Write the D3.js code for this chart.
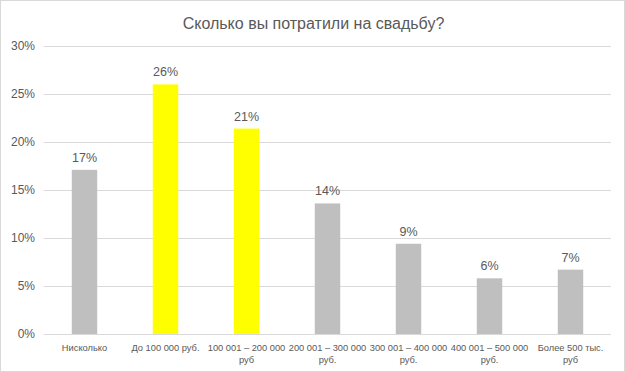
<!DOCTYPE html>
<html>
<head>
<meta charset="utf-8">
<script src="https://cdn.jsdelivr.net/npm/d3@7"></script>
<style>
  body { margin: 0; background: #fff; }
  text { font-family: "Liberation Sans", Arial, sans-serif; fill: #595959; }
</style>
</head>
<body>
<script>
// данные с диаграммы
let categories = [
    "Нисколько",
    "До 100 000 руб.",
    "100 001 – 200 000 руб",
    "200 001 – 300 000 руб.",
    "300 001 – 400 000 руб.",
    "400 001 – 500 000 руб.",
    "Более 500 тыс. руб"
];
// подписи по строкам (как переносит Excel)
let categoryLines = [
    ["Нисколько"],
    ["До 100 000 руб."],
    ["100 001 – 200 000", "руб"],
    ["200 001 – 300 000", "руб."],
    ["300 001 – 400 000", "руб."],
    ["400 001 – 500 000", "руб."],
    ["Более 500 тыс.", "руб"]
];
let values = [0.171, 0.260, 0.214, 0.136, 0.094, 0.058, 0.067];
let highlighted = [false, true, true, false, false, false, false];
let yTicks = [0, 0.05, 0.10, 0.15, 0.20, 0.25, 0.30];
let title = "Сколько вы потратили на свадьбу?";

let W = 625, H = 372;
let margin = {top: 46, right: 14, bottom: 38, left: 44};
let width = W - margin.left - margin.right,
    height = H - margin.top - margin.bottom;

let svg = d3.select("body").append("svg")
    .attr("width", W)
    .attr("height", H);

// рамка области диаграммы
svg.append("rect")
    .attr("x", 0.5).attr("y", 0.5)
    .attr("width", W - 1).attr("height", H - 1)
    .attr("fill", "#fff")
    .attr("stroke", "#d9d9d9");

svg.append("text")
    .attr("x", W / 2 + 1)
    .attr("y", 29)
    .attr("text-anchor", "middle")
    .style("font-size", "16px")
    .text(title);

let g = svg.append("g")
    .attr("transform", "translate(" + margin.left + "," + margin.top + ")");

let x = d3.scaleBand()
    .range([0, width])
    .domain(categories)
    .paddingInner(0.686)
    .paddingOuter(0.343);

let y = d3.scaleLinear()
    .range([height, 0])
    .domain([0, 0.30]);

// сетка
g.selectAll(".grid")
    .data(yTicks)
    .join("line")
    .attr("class", "grid")
    .attr("x1", 0)
    .attr("x2", width)
    .attr("y1", d => Math.round(y(d)) + 0.5)
    .attr("y2", d => Math.round(y(d)) + 0.5)
    .attr("stroke", "#d9d9d9");

// левая ось
let yAxis = g.append("g")
    .call(d3.axisLeft(y).tickValues(yTicks).tickFormat(d3.format(".0%")).tickSize(0).tickPadding(9));
yAxis.select(".domain").remove();
yAxis.selectAll("text")
    .attr("fill", "#595959")
    .style("font-size", "12px")
    .style("font-family", "Liberation Sans, Arial, sans-serif");

g.selectAll(".bar")
    .data(values)
    .join("rect")
    .attr("class", "bar")
    .attr("x", (d, i) => x(categories[i]))
    .attr("y", d => y(d))
    .attr("width", x.bandwidth())
    .attr("height", d => y(0) - y(d))
    .attr("fill", (d, i) => highlighted[i] ? "#ffff00" : "#bfbfbf");

// подписи значений
g.selectAll(".label")
    .data(values)
    .join("text")
    .attr("class", "label")
    .attr("x", (d, i) => x(categories[i]) + x.bandwidth() / 2)
    .attr("y", d => y(d) - 8)
    .attr("text-anchor", "middle")
    .style("font-size", "12.5px")
    .text(d => d3.format(".0%")(d));

// подписи категорий
let cat = g.selectAll(".cat")
    .data(categoryLines)
    .join("text")
    .attr("class", "cat")
    .attr("x", (d, i) => x(categories[i]) + x.bandwidth() / 2)
    .attr("y", height + 17)
    .attr("text-anchor", "middle")
    .style("font-size", "9.3px");
cat.selectAll("tspan")
    .data(d => d)
    .join("tspan")
    .attr("x", function () { return this.parentNode.getAttribute("x"); })
    .attr("dy", (d, i) => i === 0 ? 0 : 12)
    .text(d => d);
</script>
</body>
</html>
